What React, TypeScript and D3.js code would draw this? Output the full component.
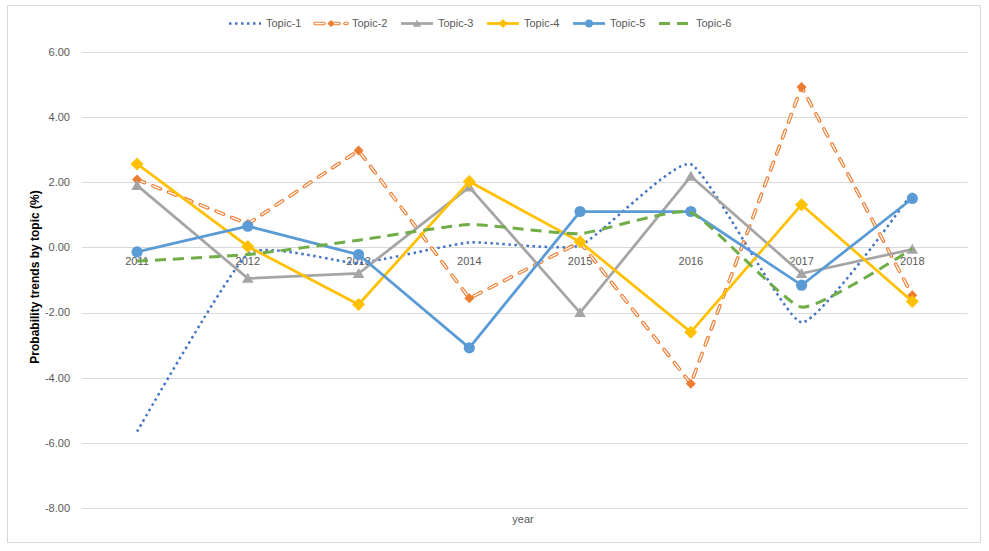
import React from "react";
import * as d3 from "d3";

const years = ["2011", "2012", "2013", "2014", "2015", "2016", "2017", "2018"];
const topic1 = [-5.65, -0.2, -0.48, 0.15, 0.06, 2.55, -2.3, 1.68];
const topic2 = [2.08, 0.72, 2.97, -1.56, 0.16, -4.18, 4.92, -1.47];
const topic3 = [1.9, -0.95, -0.8, 1.85, -2.0, 2.18, -0.8, -0.06];
const topic4 = [2.56, 0.03, -1.75, 2.02, 0.17, -2.6, 1.31, -1.66];
const topic5 = [-0.14, 0.65, -0.22, -3.08, 1.1, 1.1, -1.16, 1.5];
const topic6 = [-0.42, -0.22, 0.22, 0.7, 0.42, 1.07, -1.83, -0.04];
const seriesNames = ["Topic-1", "Topic-2", "Topic-3", "Topic-4", "Topic-5", "Topic-6"];
const yTicks = [6, 4, 2, 0, -2, -4, -6, -8];
const yTitle = "Probability trends by topic (%)";
const xTitle = "year";

const W = 989;
const H = 551;
const font = "'Liberation Sans', Arial, sans-serif";
const textColor = "#595959";

type Style = {
  color: string;
  width: number;
  dash?: string;
  smooth?: boolean;
  hollow?: boolean;
  marker?: "diamondS" | "diamondL" | "triangle" | "circle";
};

const styles: Style[] = [
  { color: "#4472C4", width: 2.5, dash: "2.5 3.5", smooth: true },
  { color: "#ED7D31", width: 3.6, dash: "8 9", hollow: true, marker: "diamondS" },
  { color: "#A5A5A5", width: 2.75, marker: "triangle" },
  { color: "#FFC000", width: 2.75, marker: "diamondL" },
  { color: "#5B9BD5", width: 2.75, marker: "circle" },
  { color: "#70AD47", width: 3, dash: "11 7", smooth: true },
];

function markerPath(kind: string, s: number): string {
  if (kind === "diamondS") {
    const r = 5 * s;
    return `M0,${-r}L${r},0L0,${r}L${-r},0Z`;
  }
  if (kind === "diamondL") {
    const r = 6.5 * s;
    return `M0,${-r}L${r},0L0,${r}L${-r},0Z`;
  }
  if (kind === "triangle") {
    const w = 5.8 * s;
    return `M0,${-5.5 * s}L${w},${4.5 * s}L${-w},${4.5 * s}Z`;
  }
  return "";
}

function Marker({ kind, x, y, color, scale }: { kind: string; x: number; y: number; color: string; scale: number }) {
  if (kind === "circle") {
    return <circle cx={x} cy={y} r={5.6 * scale} fill={color} />;
  }
  return <path d={markerPath(kind, scale)} transform={`translate(${x},${y})`} fill={color} />;
}

export default function App() {
  const allSeries = [topic1, topic2, topic3, topic4, topic5, topic6];
  const x = d3.scalePoint<string>().domain(years).range([81.7, 967.7]).padding(0.5);
  const y = d3.scaleLinear().domain([-8, 6]).range([508.3, 51.7]);
  const x0 = 81.7;
  const x1 = 967.7;

  const lineStraight = d3
    .line<number>()
    .x((_, i) => x(years[i]) as number)
    .y((d) => y(d));
  const lineSmooth = d3
    .line<number>()
    .x((_, i) => x(years[i]) as number)
    .y((d) => y(d))
    .curve(d3.curveCardinal.tension(0.55));

  const legendStart = 229;
  const legendStep = 86;
  const legendY = 23.5;

  return (
    <svg
      width={W}
      height={H}
      style={{ position: "absolute", left: 0, top: 0, background: "#fff" }}
      fontFamily={font}
    >
      <rect x={0} y={0} width={W} height={H} fill="#fff" />
      <rect x={7.5} y={5.5} width={973} height={537} fill="none" stroke="#d9d9d9" strokeWidth={1} />

      {yTicks.map((t) => (
        <line key={t} x1={x0} x2={x1} y1={Math.round(y(t)) + 0.5} y2={Math.round(y(t)) + 0.5} stroke="#d9d9d9" strokeWidth={1} />
      ))}
      {yTicks.map((t) => (
        <text key={"l" + t} x={70} y={y(t)} dy="0.35em" textAnchor="end" fontSize={11} fill={textColor}>
          {t.toFixed(2)}
        </text>
      ))}

      {years.map((yr) => (
        <text key={yr} x={x(yr) as number} y={y(0) + 18} textAnchor="middle" fontSize={11} fill={textColor}>
          {yr}
        </text>
      ))}

      {allSeries.map((data, si) => {
        const st = styles[si];
        const d = (st.smooth ? lineSmooth : lineStraight)(data) || "";
        return (
          <g key={si}>
            <path
              d={d}
              fill="none"
              stroke={st.color}
              strokeWidth={st.width}
              strokeDasharray={st.dash}
              strokeLinecap={st.hollow ? "round" : "butt"}
              strokeLinejoin="round"
            />
            {st.hollow && (
              <path d={d} fill="none" stroke="#fff" strokeWidth={1.3} strokeDasharray={st.dash} strokeLinecap="round" />
            )}
            {st.marker &&
              data.map((v, i) => (
                <Marker key={i} kind={st.marker as string} x={x(years[i]) as number} y={y(v)} color={st.color} scale={1} />
              ))}
          </g>
        );
      })}

      <text
        transform={`translate(39,277) rotate(-90)`}
        textAnchor="middle"
        fontSize={12}
        fontWeight="bold"
        fill="#000"
      >
        {yTitle}
      </text>
      <text x={523} y={523} textAnchor="middle" fontSize={11} fill={textColor}>
        {xTitle}
      </text>

      {seriesNames.map((name, i) => {
        const st = styles[i];
        const sx = legendStart + i * legendStep;
        const sw = 32;
        const dLine = `M${sx},${legendY}L${sx + sw},${legendY}`;
        return (
          <g key={name}>
            <path
              d={dLine}
              stroke={st.color}
              strokeWidth={st.width}
              strokeDasharray={st.hollow ? "9 6" : st.dash}
              strokeLinecap={st.hollow ? "round" : "butt"}
              fill="none"
            />
            {st.hollow && (
              <path d={dLine} stroke="#fff" strokeWidth={1.3} strokeDasharray="9 6" strokeLinecap="round" fill="none" />
            )}
            {st.marker && (
              <Marker kind={st.marker} x={sx + sw / 2} y={legendY} color={st.color} scale={0.7} />
            )}
            <text x={sx + sw + 5} y={legendY} dy="0.35em" fontSize={11} fill={textColor}>
              {name}
            </text>
          </g>
        );
      })}
    </svg>
  );
}
